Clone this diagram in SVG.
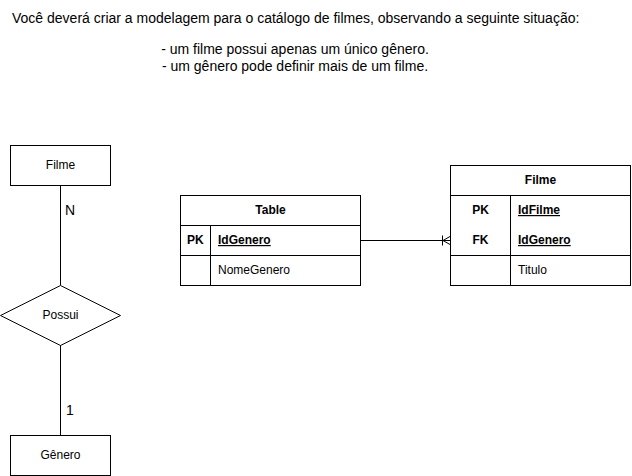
<svg xmlns="http://www.w3.org/2000/svg" width="632" height="476" viewBox="0 0 632 476">
<style>
text{font-family:"Liberation Sans",Arial,sans-serif;font-size:12px;fill:#000}
.t{font-size:14px}
.b{font-weight:bold}
.u{text-decoration:underline}
.c{text-anchor:middle}
.s{fill:#fff;stroke:#000;stroke-width:1}
.l{stroke:#000;stroke-width:1;fill:none}
</style>
<rect width="632" height="476" fill="#fff"/>
<g id="title">
<text class="t" x="12" y="23">Você deverá criar a modelagem para o catálogo de filmes, observando a seguinte situação:</text>
<text class="t c" x="295" y="54">- um filme possui apenas um único gênero.</text>
<text class="t c" x="295" y="71">- um gênero pode definir mais de um filme.</text>
</g>
<g id="connectors">
<path class="l" d="M60.5 185V285"/>
<path class="l" d="M60.5 345V435"/>
<path class="l" d="M360 240.5H450"/>
<path class="l" d="M442.5 235.5V245.5M450 236.5L443 240.5L450 244.5"/>
<text class="t" x="65" y="215">N</text>
<text class="t" x="66" y="415">1</text>
</g>
<g id="filme-entity">
<rect class="s" x="10.5" y="145.5" width="100" height="40"/>
<text class="c" x="60.5" y="169">Filme</text>
</g>
<g id="possui">
<path class="s" d="M60.5 285.5L120.5 315.5L60.5 345.5L0.5 315.5Z"/>
<text class="c" x="60.5" y="319">Possui</text>
</g>
<g id="genero-entity">
<rect class="s" x="10.5" y="435.5" width="100" height="40"/>
<text class="c" x="60.5" y="459">Gênero</text>
</g>
<g id="table-genero">
<rect class="s" x="180.5" y="195.5" width="180" height="90"/>
<path class="l" d="M180.5 225.5H360.5M180.5 255.5H360.5M210.5 225.5V285.5"/>
<text class="c b" x="270.5" y="214">Table</text>
<text class="b" x="187" y="244">PK</text>
<text class="b u" x="218" y="244">IdGenero</text>
<text x="218" y="274">NomeGenero</text>
</g>
<g id="table-filme">
<rect class="s" x="450.5" y="165.5" width="180" height="120"/>
<path class="l" d="M450.5 195.5H630.5M450.5 255.5H630.5M510.5 195.5V285.5"/>
<text class="c b" x="540.5" y="184">Filme</text>
<text class="c b" x="480.5" y="214">PK</text>
<text class="c b" x="480.5" y="244">FK</text>
<text class="b u" x="518" y="214">IdFilme</text>
<text class="b u" x="518" y="244">IdGenero</text>
<text x="518" y="274">Titulo</text>
</g>
</svg>
